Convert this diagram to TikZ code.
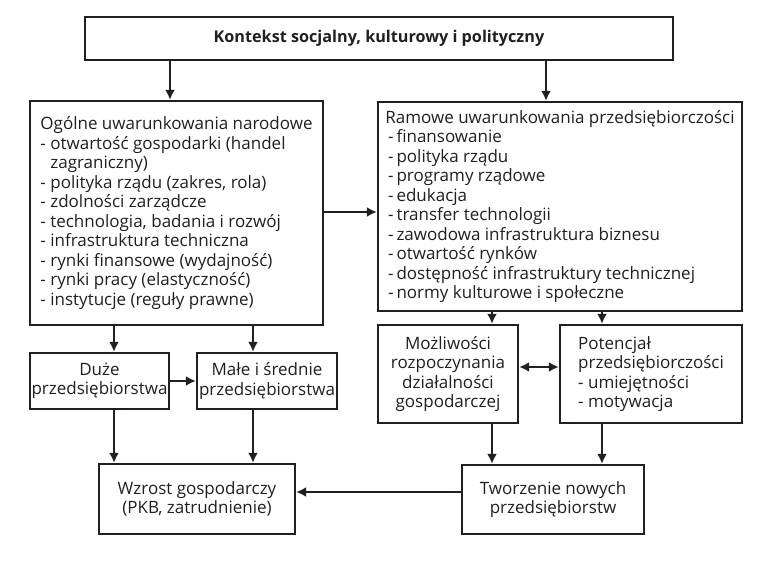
\documentclass[tikz,border=0pt]{standalone}
\usepackage{fontspec}
\setmainfont{Open Sans}
\usetikzlibrary{arrows.meta}
\definecolor{ciemny}{RGB}{35,31,32}
\begin{document}
\begin{tikzpicture}[x=1pt,y=-1pt]
\tikzset{blok/.style={draw=ciemny,line width=2.3pt,text=ciemny,inner sep=0pt,
  font=\fontsize{17}{19.5}\selectfont},
lista/.style={blok,align=left},
srodek/.style={blok,align=center},
strz/.style={->,>={Latex[length=10pt,width=10pt]},draw=ciemny,line width=2pt},
}
\path[fill=white,use as bounding box] (0,0) rectangle (777,564);

\node[srodek,minimum width=588,minimum height=43] (kontekst) at (379,38.5)
  {\fontsize{16.2}{19.5}\selectfont\bfseries Kontekst socjalny, kulturowy i polityczny};
\node[lista,minimum width=293,minimum height=224] (ogolne) at (176.5,213)
  {Ogólne uwarunkowania narodowe\\
   - otwartość gospodarki (handel\\
   \phantom{- }zagraniczny)\\
   - polityka rządu (zakres, rola)\\
   - zdolności zarządcze\\
   - technologia, badania i rozwój\\
   - infrastruktura techniczna\\
   - rynki finansowe (wydajność)\\
   - rynki pracy (elastyczność)\\
   - instytucje (reguły prawne)};
\node[lista,minimum width=364,minimum height=209] (ramowe) at (560,206.5)
  {Ramowe uwarunkowania przedsiębiorczości\\
   \,-\,finansowanie\\
   \,-\,polityka rządu\\
   \,-\,programy rządowe\\
   \,-\,edukacja\\
   \,-\,transfer technologii\\
   \,-\,zawodowa infrastruktura biznesu\\
   \,-\,otwartość rynków\\
   \,-\,dostępność infrastruktury technicznej\\
   \,-\,normy kulturowe i społeczne};
\node[srodek,minimum width=139,minimum height=56] (duze) at (99.5,381)
  {Duże\\przedsiębiorstwa};
\node[srodek,minimum width=140,minimum height=56] (male) at (267,381)
  {Małe i średnie\\przedsiębiorstwa};
\node[srodek,minimum width=140,minimum height=98] (mozl) at (448,374)
  {Możliwości\\rozpoczynania\\działalności\\gospodarczej};
\node[lista,minimum width=182,minimum height=98] (potenc) at (651,374)
  {Potencjał\\przedsiębiorczości\\- umiejętności\\- motywacja};
\node[srodek,minimum width=196,minimum height=70] (wzrost) at (197,499)
  {Wzrost gospodarczy\\(PKB, zatrudnienie)};
\node[srodek,minimum width=182,minimum height=69] (tworz) at (553,499.5)
  {Tworzenie nowych\\przedsiębiorstw};

% punkty pomocnicze dla strzalek
\coordinate (kx1) at (170,0);
\coordinate (kx2) at (546,0);
\coordinate (lx1) at (114,0);
\coordinate (lx2) at (253,0);
\coordinate (rx1) at (492,0);
\coordinate (rx2) at (602,0);
\coordinate (oy) at (0,212);
\coordinate (dy) at (0,367);
\coordinate (ty) at (0,492);

\draw[strz] (kontekst.south -| kx1) -- (ogolne.north -| kx1);
\draw[strz] (kontekst.south -| kx2) -- (ramowe.north -| kx2);
\draw[strz] (ogolne.east |- oy) -- (ramowe.west |- oy);
\draw[strz] (ogolne.south -| lx1) -- (duze.north -| lx1);
\draw[strz] (ogolne.south -| lx2) -- (male.north -| lx2);
\draw[strz] (duze.east) -- (male.west);
\draw[strz] (duze.south -| lx1) -- (wzrost.north -| lx1);
\draw[strz] (male.south -| lx2) -- (wzrost.north -| lx2);
\draw[strz] (ramowe.south -| rx1) -- (mozl.north -| rx1);
\draw[strz] (ramowe.south -| rx2) -- (potenc.north -| rx2);
\draw[strz,<->] (mozl.east |- dy) -- (potenc.west |- dy);
\draw[strz] (mozl.south -| rx1) -- (tworz.north -| rx1);
\draw[strz] (potenc.south -| rx2) -- (tworz.north -| rx2);
\draw[strz] (tworz.west |- ty) -- (wzrost.east |- ty);

\end{tikzpicture}
\end{document}
